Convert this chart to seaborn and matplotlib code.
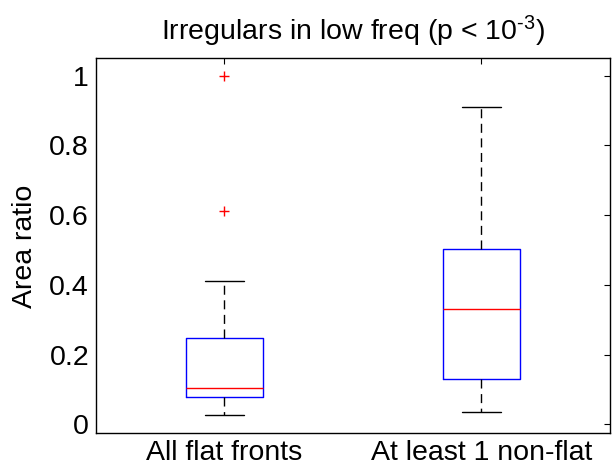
import matplotlib
matplotlib.use("Agg")
import matplotlib.pyplot as plt
import seaborn as sns

# Data (box statistics)
categories = ["All flat fronts", "At least 1 non-flat"]
whisker_low = [0.026, 0.037]
q1_values = [0.078, 0.130]
medians = [0.103, 0.330]
q3_values = [0.248, 0.504]
whisker_high = [0.410, 0.911]
outliers = [[0.613, 1.0], []]
title_text = r"Irregulars in low freq (p < 10$^{\text{-3}}$)"
ylabel_text = "Area ratio"
yticks = [0, 0.2, 0.4, 0.6, 0.8, 1]
ytick_labels = ["0", "0.2", "0.4", "0.6", "0.8", "1"]

sns.set_theme(style="white")
plt.rcParams["font.family"] = ["Liberation Sans", "DejaVu Sans"]
plt.rcParams["mathtext.fontset"] = "custom"
plt.rcParams["mathtext.rm"] = "Liberation Sans"
plt.rcParams["mathtext.it"] = "Liberation Sans"
plt.rcParams["mathtext.default"] = "regular"

FS = 20.5

fig = plt.figure(figsize=(6.16, 4.70), dpi=100)
ax = fig.add_axes([0.1558, 0.0777, 0.8342, 0.7983])

stats = []
for i, name in enumerate(categories):
    stats.append(dict(label=name, whislo=whisker_low[i], q1=q1_values[i],
                      med=medians[i], q3=q3_values[i], whishi=whisker_high[i],
                      fliers=outliers[i]))

ax.bxp(stats, positions=[1, 2], widths=0.30, showfliers=True,
       boxprops=dict(color="#0000ff", linewidth=1.0),
       medianprops=dict(color="#ff0000", linewidth=1.0),
       whiskerprops=dict(color="black", linewidth=1.0, linestyle=(0, (6.5, 4))),
       capprops=dict(color="black", linewidth=1.0),
       capwidths=0.15,
       flierprops=dict(marker="+", markeredgecolor="#ff0000", markersize=7,
                       markeredgewidth=1.0, linestyle="none"))

ax.set_xlim(0.5, 2.5)
ax.set_ylim(-0.026, 1.05)
ax.set_yticks(yticks)
ax.set_yticklabels(ytick_labels)
ax.set_xticks([1, 2])
ax.set_xticklabels(categories)

for s in ax.spines.values():
    s.set_visible(True)
    s.set_color("black")
    s.set_linewidth(1.0)

ax.tick_params(axis="both", direction="in", length=4, width=0.8, color="black",
               top=True, right=True, labelsize=FS, labelcolor="black")
ax.tick_params(axis="y", pad=5)
ax.tick_params(axis="x", pad=5)

ax.set_ylabel(ylabel_text, fontsize=FS, color="black", labelpad=8)
ax.set_title(title_text, fontsize=FS, color="black", pad=13)

fig.savefig("out.png", dpi=100)
